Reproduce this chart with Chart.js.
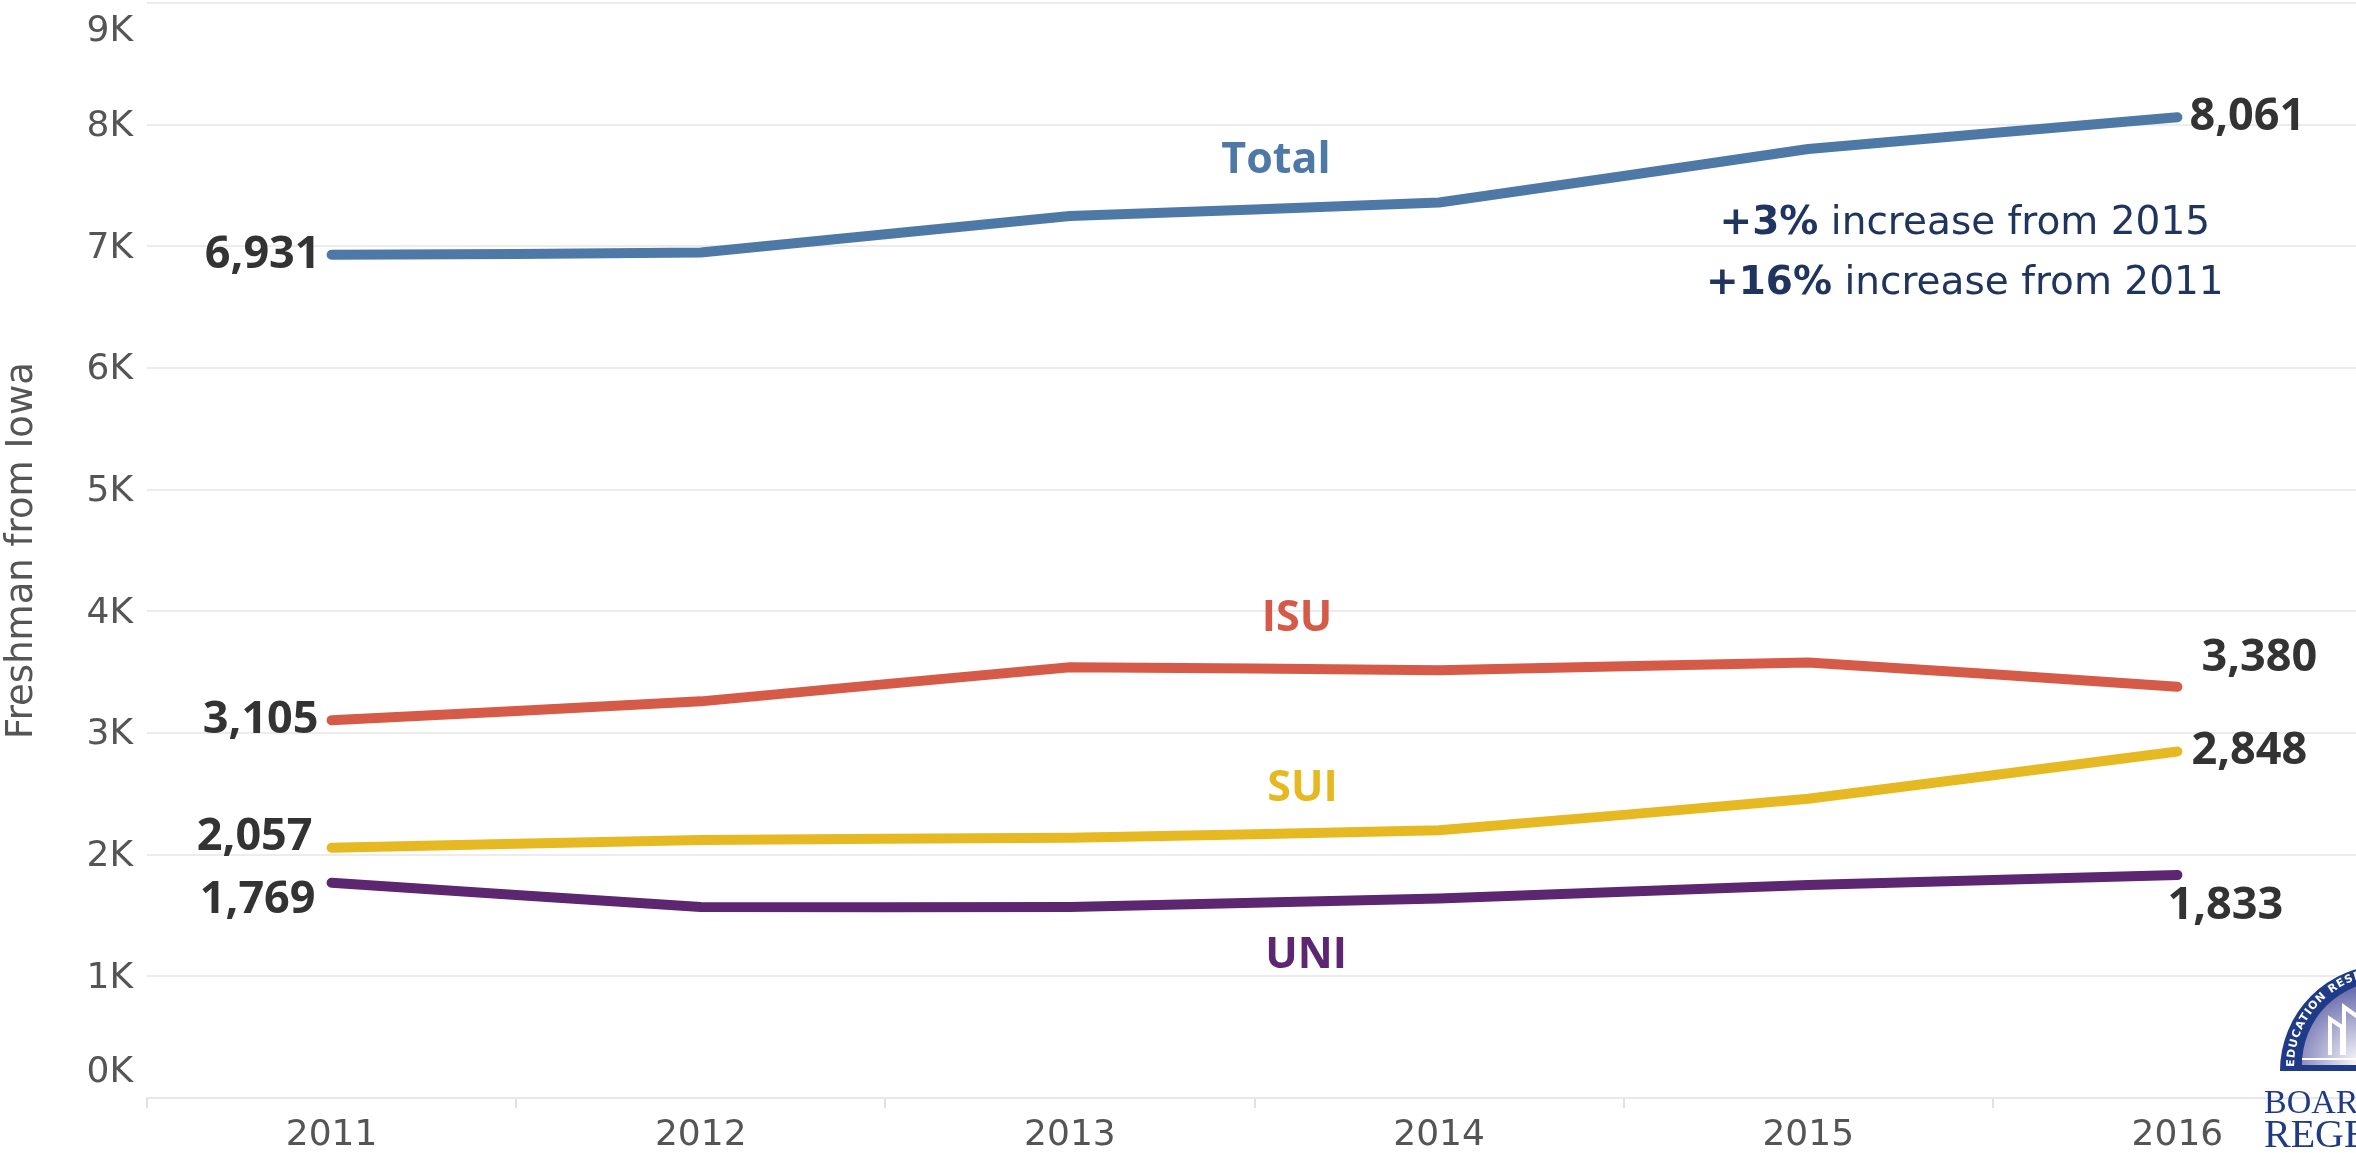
<!DOCTYPE html>
<html>
<head>
<meta charset="utf-8">
<script src="https://cdn.jsdelivr.net/npm/chart.js@4.4.0/dist/chart.umd.min.js"></script>
<style>
  html, body { margin: 0; padding: 0; background: #fff; overflow: hidden; }
  #wrap { position: relative; width: 2362px; height: 1153px; }
  #logo { position: absolute; left: 2250px; top: 955px; }
</style>
</head>
<body>
<div id="wrap">
  <canvas id="myChart"></canvas>
  <svg id="logo" width="120" height="198" viewBox="0 0 120 198">
    <defs>
      <radialGradient id="g1" cx="0.7" cy="1" r="0.9">
        <stop offset="0" stop-color="#ffffff"/>
        <stop offset="1" stop-color="#6d6fae"/>
      </radialGradient>
      <path id="arc" d="M44,112 A92,92 0 0 1 136,20"/>
    </defs>
    <path d="M30,116 A106,106 0 0 1 136,10 L136,116 Z" fill="#1f3b88"/>
    <path d="M52,110 A84,84 0 0 1 136,26 L136,110 Z" fill="url(#g1)"/>
    <line x1="52" y1="104" x2="136" y2="104" stroke="#fff" stroke-width="2"/>
    <path d="M80,100 L80,64 L92,72 L92,100 M94,100 L94,52 L108,62 L108,100 M110,100 L110,44 L122,50 L122,100" fill="none" stroke="#fff" stroke-width="4"/>
    <text font-family="DejaVu Sans" font-size="11" fill="#fff" font-weight="bold" letter-spacing="1">
      <textPath href="#arc">EDUCATION RESEARCH</textPath>
    </text>
    <text x="14" y="158" font-family="Liberation Serif" font-size="34" fill="#1f3b88">BOARD</text>
    <text x="14" y="192" font-family="Liberation Serif" font-size="40" fill="#1f3b88">REGENTS</text>
  </svg>
</div>
<script>
// datos del grafico
const years = ["2011", "2012", "2013", "2014", "2015", "2016"];
const total = [6931, 6950, 7250, 7360, 7800, 8061];
const isu = [3105, 3260, 3540, 3515, 3580, 3380];
const sui = [2057, 2120, 2140, 2200, 2460, 2848];
const uni = [1769, 1570, 1570, 1640, 1750, 1833];

const yTickValues = [0, 1000, 2000, 3000, 4000, 5000, 6000, 7000, 8000, 9000];
const yTickLabels = ["0K", "1K", "2K", "3K", "4K", "5K", "6K", "7K", "8K", "9K"];

const seriesNames = ["Total", "ISU", "SUI", "UNI"];
const seriesColors = ["#4e79a7", "#d65a48", "#e6b923", "#5c2670"];
const annotationLines = [["+3%", " increase from 2015"], ["+16%", " increase from 2011"]];

// donde van las etiquetas de los extremos
const endLabels = [
  { ds: 0, i: 0, align: "right", dx: -11, dy: 0 },
  { ds: 0, i: 5, align: "left", dx: 12, dy: 0 },
  { ds: 1, i: 0, align: "right", dx: -13, dy: 0 },
  { ds: 1, i: 5, align: "left", dx: 24, dy: -29 },
  { ds: 2, i: 0, align: "right", dx: -19, dy: -11 },
  { ds: 2, i: 5, align: "left", dx: 14, dy: 0 },
  { ds: 3, i: 0, align: "right", dx: -16, dy: 17 },
  { ds: 3, i: 5, align: "left", dx: -10, dy: 31 }
];
// posicion de los nombres (indice de categoria, valor)
const namePos = [[2.558, 7700], [2.615, 3940], [2.63, 2540], [2.64, 1167]];

const tickFont = '"DejaVu Sans"';

const yLabelsPlugin = {
  id: "yLabels",
  afterDraw(chart) {
    const ctx = chart.ctx;
    const y = chart.scales.y;
    ctx.save();
    ctx.font = "36px " + tickFont;
    ctx.fillStyle = "#555";
    ctx.textAlign = "right";
    ctx.textBaseline = "middle";
    yTickValues.forEach((v, i) => {
      let py = y.getPixelForValue(v) + 2;
      if (i === yTickValues.length - 1) py += 27;
      if (i === 0) py -= 27;
      ctx.fillText(yTickLabels[i], y.right - 14, py);
    });
    ctx.restore();
  }
};

const textPlugin = {
  id: "textos",
  afterDatasetsDraw(chart) {
    const ctx = chart.ctx;
    const xs = chart.scales.x;
    const ys = chart.scales.y;
    ctx.save();
    ctx.textBaseline = "middle";

    // valores en los extremos
    endLabels.forEach((l) => {
      const pt = chart.getDatasetMeta(l.ds).data[l.i];
      const val = chart.data.datasets[l.ds].data[l.i];
      ctx.font = 'bold 45px "Open Sans"';
      ctx.fillStyle = "#333";
      ctx.textAlign = l.align;
      ctx.fillText(val.toLocaleString("en-US"), pt.x + l.dx, pt.y + l.dy);
    });

    // nombres de las series
    ctx.textAlign = "center";
    ctx.font = 'bold 43px "Open Sans"';
    seriesNames.forEach((n, k) => {
      ctx.fillStyle = seriesColors[k];
      ctx.fillText(n, xs.getPixelForValue(namePos[k][0]), ys.getPixelForValue(namePos[k][1]));
    });

    // anotacion
    const ax = xs.getPixelForValue(4.424);
    const ayVals = [7183, 6690];
    ctx.fillStyle = "#1f3560";
    ctx.textAlign = "left";
    annotationLines.forEach((parts, k) => {
      ctx.font = "bold 39px " + tickFont;
      const w1 = ctx.measureText(parts[0]).width;
      ctx.font = "39px " + tickFont;
      const w2 = ctx.measureText(parts[1]).width;
      const x0 = ax - (w1 + w2) / 2;
      const py = ys.getPixelForValue(ayVals[k]);
      ctx.font = "bold 39px " + tickFont;
      ctx.fillText(parts[0], x0, py);
      ctx.font = "39px " + tickFont;
      ctx.fillText(parts[1], x0 + w1, py);
    });
    ctx.restore();
  }
};

const datasets = [total, isu, sui, uni].map((d, k) => ({
  label: seriesNames[k],
  data: d,
  borderColor: seriesColors[k],
  backgroundColor: seriesColors[k],
  borderWidth: 10,
  pointRadius: 0,
  tension: 0.05,
  borderCapStyle: "round",
  borderJoinStyle: "round",
  fill: false
}));

const chartDOM = document.getElementById("myChart");
const myChart = new Chart(chartDOM, {
  type: "line",
  data: { labels: years, datasets: datasets },
  plugins: [yLabelsPlugin, textPlugin],
  options: {
    responsive: true,
    maintainAspectRatio: false,
    animation: false,
    layout: { padding: { top: 3, right: 0, left: 0, bottom: 0 } },
    plugins: { legend: { display: false }, tooltip: { enabled: false } },
    scales: {
      x: {
        type: "category",
        offset: true,
        grid: { offset: true, drawOnChartArea: false, drawTicks: true, tickLength: 10, color: "#e0e0e0", lineWidth: 2 },
        border: { display: true, color: "#e8e8e8", width: 2 },
        ticks: { color: "#555", font: { family: "DejaVu Sans", size: 36 }, padding: 6, maxRotation: 0 },
        afterFit: (scale) => { scale.height = 55; }
      },
      y: {
        min: 0,
        max: 9000,
        ticks: { stepSize: 1000, display: false },
        grid: { color: "#ececec", lineWidth: 2, drawTicks: false },
        border: { display: false },
        title: {
          display: true,
          text: "Freshman from Iowa",
          color: "#555",
          font: { family: "DejaVu Sans", size: 37 },
          padding: { top: 0, bottom: 0 }
        },
        afterFit: (scale) => { scale.width = 147; }
      }
    }
  }
});
</script>
</body>
</html>
